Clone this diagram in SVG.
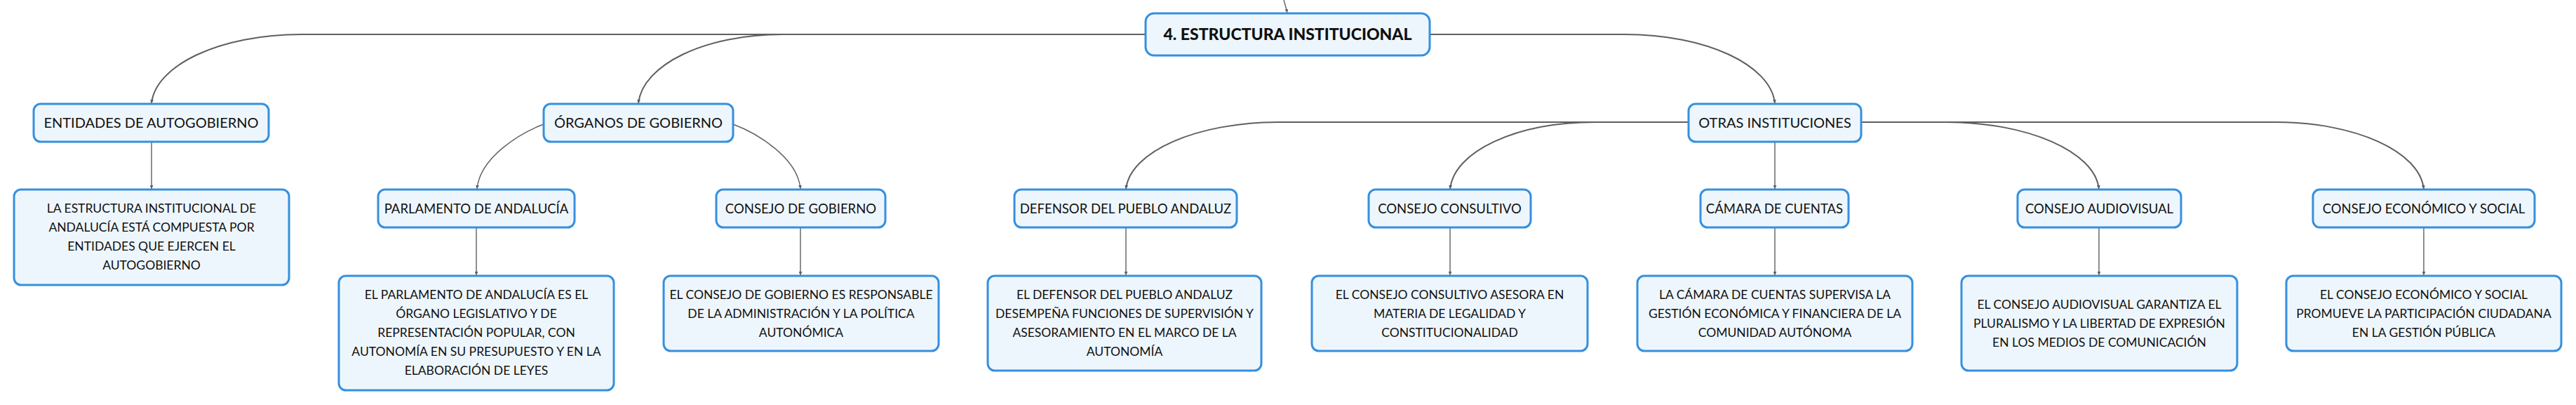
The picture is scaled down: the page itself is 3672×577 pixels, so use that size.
<svg xmlns="http://www.w3.org/2000/svg" width="3672" height="577" viewBox="0 0 3672 577">
<style>
  .box { fill: #eef6fd; stroke: #3590de; stroke-width: 3; }
  .t { font-family: Lato, "Noto Sans", "Liberation Sans", sans-serif; fill: #111; text-anchor: middle; }
  .t0 { font-size: 23px; font-weight: 900; }
  .t1 { font-size: 20px; }
  .t2 { font-size: 18.5px; }
  .t3 { font-size: 17.5px; }
  .c { fill: none; stroke: #5f5f5f; }
  .c1 { stroke-width: 2; }
  .c2 { stroke-width: 1.4; }
</style>
<defs>
  <marker id="ar" viewBox="0 0 6 6" refX="6" refY="3" markerWidth="5" markerHeight="5" markerUnits="userSpaceOnUse" orient="auto">
    <path d="M0,0 L6,3 L0,6 z" fill="#5f5f5f"/>
  </marker>
</defs>
<rect width="3672" height="577" fill="#fff"/>

<g id="connectors">
  <path class="c c2" d="M1830,0 L1835,18" marker-end="url(#ar)"/>
  <path class="c c1" d="M1633,49 L430,49 C313,49 222,93 216,147" marker-end="url(#ar)"/>
  <path class="c c1" d="M1116,49 C1003,49 916,93 910,147" marker-end="url(#ar)"/>
  <path class="c c1" d="M2038,49 L2316,49 C2433,49 2524,93 2530,147" marker-end="url(#ar)"/>
  <path class="c c2" d="M216,202 L216,269" marker-end="url(#ar)"/>
  <path class="c c2" d="M775,177 C740,190 684,225 680,269" marker-end="url(#ar)"/>
  <path class="c c2" d="M1045,177 C1080,190 1137,225 1141,269" marker-end="url(#ar)"/>
  <path class="c c2" d="M679,324 L679,392" marker-end="url(#ar)"/>
  <path class="c c2" d="M1141,324 L1141,392" marker-end="url(#ar)"/>
  <path class="c c1" d="M2407,174 L1823,174 C1706,174 1611,216 1605,269" marker-end="url(#ar)"/>
  <path class="c c1" d="M2275,174 C2160,174 2073,216 2067,269" marker-end="url(#ar)"/>
  <path class="c c2" d="M2530,202 L2530,269" marker-end="url(#ar)"/>
  <path class="c c1" d="M2653,174 L3243,174 C3358,174 3449,216 3455,269" marker-end="url(#ar)"/>
  <path class="c c1" d="M2774,174 C2890,174 2986,216 2992,269" marker-end="url(#ar)"/>
  <path class="c c2" d="M1605,324 L1605,392" marker-end="url(#ar)"/>
  <path class="c c2" d="M2067,324 L2067,392" marker-end="url(#ar)"/>
  <path class="c c2" d="M2530,324 L2530,392" marker-end="url(#ar)"/>
  <path class="c c2" d="M2992,324 L2992,392" marker-end="url(#ar)"/>
  <path class="c c2" d="M3455,324 L3455,392" marker-end="url(#ar)"/>
</g>

<g id="central">
  <rect class="box" x="1633" y="19" width="405" height="60" rx="12"/>
  <text class="t t0" x="1835.5" y="57">4. ESTRUCTURA INSTITUCIONAL</text>
</g>

<g id="entidades">
  <rect class="box" x="48" y="148" width="335" height="54" rx="10"/>
  <text class="t t1" x="215.5" y="182">ENTIDADES DE AUTOGOBIERNO</text>
</g>
<g id="entidades-desc">
  <rect class="box" x="20" y="270" width="392" height="136" rx="10"/>
  <text class="t t3" x="216" y="303">LA ESTRUCTURA INSTITUCIONAL DE</text>
  <text class="t t3" x="216" y="330">ANDALUCÍA ESTÁ COMPUESTA POR</text>
  <text class="t t3" x="216" y="357">ENTIDADES QUE EJERCEN EL</text>
  <text class="t t3" x="216" y="384">AUTOGOBIERNO</text>
</g>

<g id="organos">
  <rect class="box" x="775" y="148" width="270" height="54" rx="10"/>
  <text class="t t1" x="910" y="182">ÓRGANOS DE GOBIERNO</text>
</g>
<g id="parlamento">
  <rect class="box" x="539" y="270" width="280" height="54" rx="10"/>
  <text class="t t2" x="679" y="304">PARLAMENTO DE ANDALUCÍA</text>
</g>
<g id="parlamento-desc">
  <rect class="box" x="483" y="393" width="392" height="163" rx="10"/>
  <text class="t t3" x="679" y="426">EL PARLAMENTO DE ANDALUCÍA ES EL</text>
  <text class="t t3" x="679" y="453">ÓRGANO LEGISLATIVO Y DE</text>
  <text class="t t3" x="679" y="480">REPRESENTACIÓN POPULAR, CON</text>
  <text class="t t3" x="679" y="507">AUTONOMÍA EN SU PRESUPUESTO Y EN LA</text>
  <text class="t t3" x="679" y="534">ELABORACIÓN DE LEYES</text>
</g>
<g id="consejo-gobierno">
  <rect class="box" x="1021" y="270" width="241" height="54" rx="10"/>
  <text class="t t2" x="1141.5" y="304">CONSEJO DE GOBIERNO</text>
</g>
<g id="consejo-gobierno-desc">
  <rect class="box" x="946" y="393" width="392" height="107" rx="10"/>
  <text class="t t3" x="1142" y="426">EL CONSEJO DE GOBIERNO ES RESPONSABLE</text>
  <text class="t t3" x="1142" y="453">DE LA ADMINISTRACIÓN Y LA POLÍTICA</text>
  <text class="t t3" x="1142" y="480">AUTONÓMICA</text>
</g>

<g id="otras">
  <rect class="box" x="2407" y="148" width="246" height="54" rx="10"/>
  <text class="t t1" x="2530" y="182">OTRAS INSTITUCIONES</text>
</g>
<g id="defensor">
  <rect class="box" x="1446" y="270" width="317" height="54" rx="10"/>
  <text class="t t2" x="1604.5" y="304">DEFENSOR DEL PUEBLO ANDALUZ</text>
</g>
<g id="defensor-desc">
  <rect class="box" x="1408" y="393" width="390" height="135" rx="10"/>
  <text class="t t3" x="1603" y="426">EL DEFENSOR DEL PUEBLO ANDALUZ</text>
  <text class="t t3" x="1603" y="453">DESEMPEÑA FUNCIONES DE SUPERVISIÓN Y</text>
  <text class="t t3" x="1603" y="480">ASESORAMIENTO EN EL MARCO DE LA</text>
  <text class="t t3" x="1603" y="507">AUTONOMÍA</text>
</g>
<g id="consultivo">
  <rect class="box" x="1951" y="270" width="231" height="54" rx="10"/>
  <text class="t t2" x="2066.5" y="304">CONSEJO CONSULTIVO</text>
</g>
<g id="consultivo-desc">
  <rect class="box" x="1870" y="393" width="393" height="107" rx="10"/>
  <text class="t t3" x="2066.5" y="426">EL CONSEJO CONSULTIVO ASESORA EN</text>
  <text class="t t3" x="2066.5" y="453">MATERIA DE LEGALIDAD Y</text>
  <text class="t t3" x="2066.5" y="480">CONSTITUCIONALIDAD</text>
</g>
<g id="camara">
  <rect class="box" x="2424" y="270" width="211" height="54" rx="10"/>
  <text class="t t2" x="2529.5" y="304">CÁMARA DE CUENTAS</text>
</g>
<g id="camara-desc">
  <rect class="box" x="2334" y="393" width="392" height="107" rx="10"/>
  <text class="t t3" x="2530" y="426">LA CÁMARA DE CUENTAS SUPERVISA LA</text>
  <text class="t t3" x="2530" y="453">GESTIÓN ECONÓMICA Y FINANCIERA DE LA</text>
  <text class="t t3" x="2530" y="480">COMUNIDAD AUTÓNOMA</text>
</g>
<g id="audiovisual">
  <rect class="box" x="2876" y="270" width="233" height="54" rx="10"/>
  <text class="t t2" x="2992.5" y="304">CONSEJO AUDIOVISUAL</text>
</g>
<g id="audiovisual-desc">
  <rect class="box" x="2796" y="393" width="393" height="135" rx="10"/>
  <text class="t t3" x="2992.5" y="440">EL CONSEJO AUDIOVISUAL GARANTIZA EL</text>
  <text class="t t3" x="2992.5" y="467">PLURALISMO Y LA LIBERTAD DE EXPRESIÓN</text>
  <text class="t t3" x="2992.5" y="494">EN LOS MEDIOS DE COMUNICACIÓN</text>
</g>
<g id="ces">
  <rect class="box" x="3297" y="270" width="316" height="54" rx="10"/>
  <text class="t t2" x="3455" y="304">CONSEJO ECONÓMICO Y SOCIAL</text>
</g>
<g id="ces-desc">
  <rect class="box" x="3259" y="393" width="392" height="107" rx="10"/>
  <text class="t t3" x="3455" y="426">EL CONSEJO ECONÓMICO Y SOCIAL</text>
  <text class="t t3" x="3455" y="453">PROMUEVE LA PARTICIPACIÓN CIUDADANA</text>
  <text class="t t3" x="3455" y="480">EN LA GESTIÓN PÚBLICA</text>
</g>
</svg>
